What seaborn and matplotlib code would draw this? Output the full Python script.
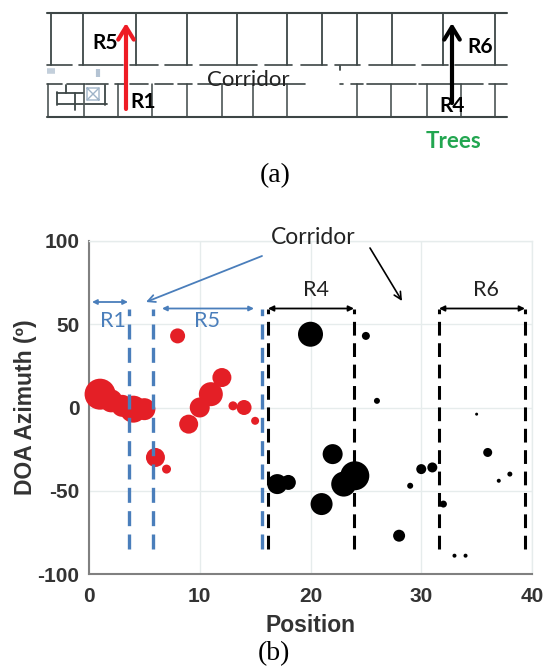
import pandas as pd
import matplotlib
matplotlib.use('Agg')
import matplotlib.pyplot as plt
import seaborn as sns

# scatter data: position, azimuth, dot diameter (px)
red_pos = [1, 2, 3, 4, 5, 6, 7, 8, 9, 10, 11, 12, 13, 14, 15]
red_az = [8, 4, 1, -1, -1, -30, -37, 43, -10, 0, 8, 18, 1, 0, -8]
red_dia = [31, 23, 22, 27, 22, 19, 9, 15, 19, 20, 24, 19, 9, 15, 8]

black_pos = [17, 18, 20, 21, 22, 23, 24, 25, 26, 28, 29, 30, 31, 32, 33, 34, 35, 36, 37, 38]
black_az = [-46, -45, 44, -58, -28, -46, -41, 43, 4, -77, -47, -37, -36, -58, -89, -89, -4, -27, -44, -40]
black_dia = [20, 15, 25, 22, 20, 25, 29, 8, 6, 12, 6, 10, 10, 7, 4, 4, 3, 9, 4, 5]

x_ticks = [0, 10, 20, 30, 40]
y_ticks = [-100, -50, 0, 50, 100]

# dashed region borders
blue_x = [3.65, 5.75, 15.6]
black_x = [16.2, 23.9, 31.6, 39.4]

# floor plan, in pixels of the figure
top_y, bottom_y, upper_y, lower_y = 13, 117, 65, 84
upper_walls = [51, 83, 136, 187, 237, 287, 322, 357, 392, 443, 495]
lower_walls = [48, 84, 118, 152, 187, 222, 253, 287, 357, 391, 427, 461, 495]
upper_dashes = [(47, 72), (79, 123), (130, 158), (165, 192), (200, 257), (265, 292), (301, 327), (335, 360),
                (369, 415), (422, 448), (455, 507)]
lower_dashes = [(47, 62), (67, 85), (86, 108), (115, 125), (130, 148), (155, 173), (178, 192), (198, 305),
                (340, 343), (351, 363), (367, 416), (419, 483), (489, 507)]
room_lines = [([57, 57], [92, 105]), ([57, 83], [93, 93]), ([66, 66], [85, 93]), ([58, 83], [104, 104]),
              ([75, 75], [93, 110]), ([105, 105], [85, 105]), ([85, 107], [104, 104]), ([340, 340], [66, 70])]

W, H = 544, 669
PX = 100 / 72  # px per pt at dpi 100


def dots(pos, az, dia):
    return pd.DataFrame({'pos': pos, 'az': az, 's': [(d / PX) ** 2 for d in dia]})


sns.set_theme(style='whitegrid')
plt.rcParams['font.family'] = ['Liberation Sans', 'DejaVu Sans']
plt.rcParams['axes.unicode_minus'] = False

fig = plt.figure(figsize=(W / 100, H / 100), dpi=100)
ax = fig.add_axes([89 / W, 1 - 574 / H, 443 / W, 333 / H])

sns.scatterplot(data=dots(red_pos, red_az, red_dia), x='pos', y='az', size='s', sizes=(0, 1000), size_norm=(0, 1000),
                color='#e41f26', linewidth=0, legend=False, ax=ax, zorder=3, clip_on=False)
sns.scatterplot(data=dots(black_pos, black_az, black_dia), x='pos', y='az', size='s', sizes=(0, 1000), size_norm=(0, 1000),
                color='black', linewidth=0, legend=False, ax=ax, zorder=3, clip_on=False)

ax.set_xlim(0, 40)
ax.set_ylim(-100, 100)
ax.set_xticks(x_ticks)
ax.set_yticks(y_ticks)
ax.grid(True, color='#e6ecec', linewidth=1)
for side in ['top', 'right']:
    ax.spines[side].set_color('#e6ecec')
    ax.spines[side].set_linewidth(1)
for side in ['left', 'bottom']:
    ax.spines[side].set_color('#808080')
    ax.spines[side].set_linewidth(1.5)
ax.tick_params(axis='y', length=0, pad=7, labelsize=15, labelcolor='#333333')
ax.tick_params(axis='x', length=0, pad=9, labelsize=15, labelcolor='#333333')
for lab in ax.get_xticklabels() + ax.get_yticklabels():
    lab.set_fontweight('bold')
ax.set_xlabel('Position', fontsize=16.5, fontweight='bold', color='#333333', labelpad=6)
ax.set_ylabel('DOA Azimuth (º)', fontsize=16.5, fontweight='bold', color='#333333', labelpad=0)

for x in blue_x:
    ax.plot([x, x], [-85, 59], color='#4a7ebb', linewidth=2.4, linestyle=(0, (4.5, 2.5)), zorder=4)
for x in black_x:
    ax.plot([x, x], [-85, 59], color='black', linewidth=2.2, linestyle=(0, (4.5, 2.5)), zorder=4)

# overlay in pixel coordinates
ov = fig.add_axes([0, 0, 1, 1], facecolor='none')
ov.set_xlim(0, W)
ov.set_ylim(H, 0)
ov.axis('off')

wall = '#3d4646'
ov.plot([47, 507], [top_y, top_y], color=wall, linewidth=1.5)
ov.plot([47, 507], [bottom_y, bottom_y], color=wall, linewidth=1.5)
for x in upper_walls:
    ov.plot([x, x], [top_y, upper_y], color=wall, linewidth=1.3)
for x in lower_walls:
    ov.plot([x, x], [lower_y, bottom_y], color=wall, linewidth=1.1)
for a, b in upper_dashes:
    ov.plot([a, b], [upper_y, upper_y], color=wall, linewidth=1.2)
for a, b in lower_dashes:
    ov.plot([a, b], [lower_y, lower_y], color=wall, linewidth=1.2)
for xs, ys in room_lines:
    ov.plot(xs, ys, color=wall, linewidth=1.3)
# door and icon marks
ice = '#9fb4c8'
ov.plot([87, 99, 99, 87, 87, 99], [88, 88, 100, 100, 88, 100], color=ice, linewidth=1)
ov.plot([87, 99], [100, 88], color=ice, linewidth=1)
ov.plot([47, 55], [71, 71], color='#c3cfdb', linewidth=4, solid_capstyle='butt')
ov.plot([98, 98], [69, 77], color='#b4c3d3', linewidth=3, solid_capstyle='butt')


def arrow(p0, p1, color, lw, style='-|>', scale=12):
    ov.annotate('', xy=p1, xytext=p0, arrowprops=dict(arrowstyle=style, color=color, lw=lw, mutation_scale=scale,
                                                      shrinkA=0, shrinkB=0))


head = '->,head_width=0.4,head_length=0.65'
arrow((126, 109), (126, 23), '#ee1c25', 3, head, 14)
arrow((452, 103), (452, 23), 'black', 3, head, 14)

# plot arrows
blue = '#4a7ebb'
for p0, p1 in [((92, 302), (128, 302)), ((162, 308.5), (254, 308.5))]:
    arrow(p0, p1, blue, 1.3, '<|-|>', 7)
for p0, p1 in [((268, 308.5), (354, 308.5)), ((439, 308.5), (525, 308.5))]:
    arrow(p0, p1, 'black', 1.3, '<|-|>', 8)
arrow((262, 256), (146, 302), blue, 1.3, '->', 13)
arrow((370, 248), (402, 301), 'black', 1.2, '->', 13)

lato = ['Lato', 'DejaVu Sans']
for s, x, y, c, fs in [('R1', 113, 321, blue, 15.5), ('R5', 207, 321, blue, 15.5), ('R4', 316, 290, '#222222', 15.5),
                       ('R6', 486, 290, '#222222', 15.5), ('Corridor', 313, 237, '#222222', 16.5),
                       ('Corridor', 248, 80, '#222222', 16)]:
    ov.text(x, y, s, color=c, fontsize=fs, family=lato, ha='center', va='center')
for s, x, y, c, fs in [('R5', 105, 43, 'black', 15), ('R1', 143, 102, 'black', 15), ('R6', 480, 47, 'black', 15),
                       ('R4', 452, 106, 'black', 15), ('Trees', 454, 142, '#22a650', 16)]:
    ov.text(x, y, s, color=c, fontsize=fs, fontweight='bold', family=lato, ha='center', va='center')
for s, x, y in [('(a)', 275, 176), ('(b)', 274, 654)]:
    ov.text(x, y, s, color='black', fontsize=20, family=['Liberation Serif', 'DejaVu Serif'], ha='center', va='center')

fig.savefig('out.png', dpi=100)
